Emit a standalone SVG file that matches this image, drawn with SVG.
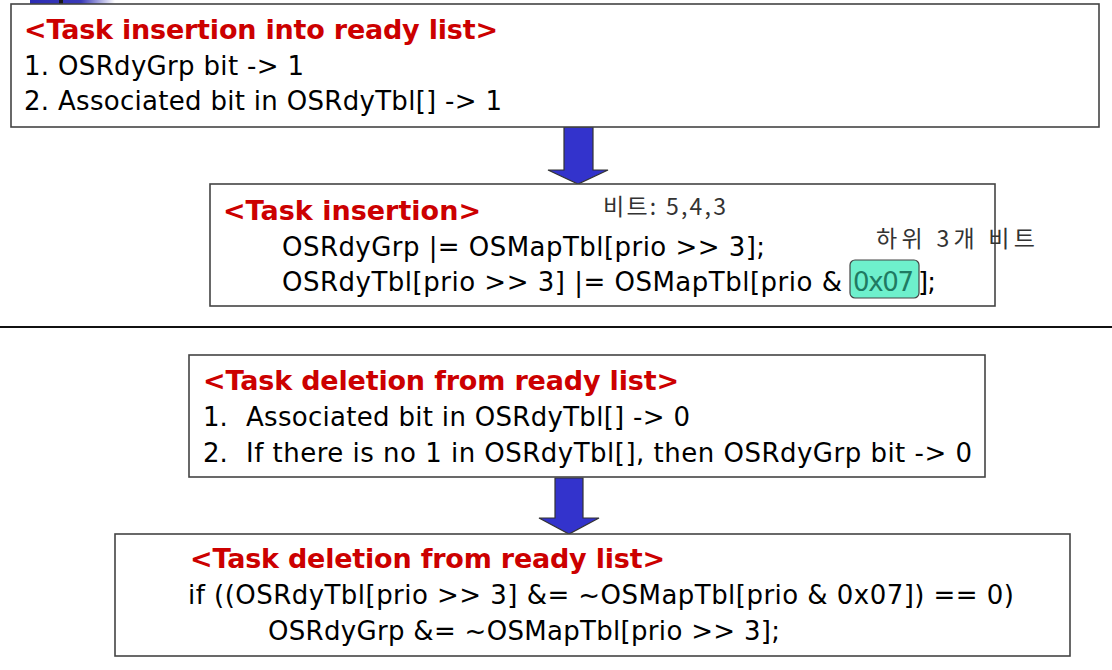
<svg xmlns="http://www.w3.org/2000/svg" width="1112" height="670" viewBox="0 0 1112 670">
<defs>
<linearGradient id="barGrad" x1="0" y1="0" x2="1" y2="0">
<stop offset="0" stop-color="#2c2cb4"/>
<stop offset="0.6" stop-color="#3a3ab8"/>
<stop offset="1" stop-color="#ffffff"/>
</linearGradient>
</defs>
<style>
.box{fill:#ffffff;stroke:#444444;stroke-width:1.6}
.title{font-family:"DejaVu Sans","Liberation Sans",sans-serif;font-weight:bold;font-size:27px;fill:#cc0000}
.body{font-family:"DejaVu Sans","Liberation Sans",sans-serif;font-size:26px;fill:#000000}
.note{font-family:"Noto Sans CJK KR","DejaVu Sans",sans-serif;font-size:23px;fill:#333333}
.arrow{fill:#3333cc;stroke:#333333;stroke-width:1.2;stroke-linejoin:miter}
.hl{fill:#6ef0cc;stroke:#444444;stroke-width:1.2}
</style>
<rect width="1112" height="670" fill="#ffffff"/>

<g id="header-decoration">
<rect x="30" y="0" width="85" height="6" fill="url(#barGrad)"/>
<rect x="59" y="0" width="4" height="12" fill="#1a1a1a"/>
</g>

<line x1="0" y1="327" x2="1112" y2="327" stroke="#111111" stroke-width="2"/>

<g id="connectors">
<polygon class="arrow" points="564,127 593,127 593,170 608,170 578,184 548,170 564,170"/>
<polygon class="arrow" points="555,478 583,478 583,518 599,518 569,534 539,518 555,518"/>
</g>

<g id="insertion-ready-list">
<rect class="box" x="11" y="4" width="1088" height="123"/>
<text class="title" x="24" y="39" textLength="474">&lt;Task insertion into ready list&gt;</text>
<text class="body" x="24" y="75" textLength="280">1. OSRdyGrp bit -&gt; 1</text>
<text class="body" x="24" y="110" textLength="478">2. Associated bit in OSRdyTbl[] -&gt; 1</text>
</g>

<g id="insertion-code">
<rect class="box" x="210" y="184" width="785" height="122"/>
<text class="title" x="223" y="220" textLength="258">&lt;Task insertion&gt;</text>
<text class="body" x="282" y="256" textLength="483">OSRdyGrp |= OSMapTbl[prio &gt;&gt; 3];</text>
<text class="body" x="282" y="291" textLength="560">OSRdyTbl[prio &gt;&gt; 3] |= OSMapTbl[prio &amp;</text>
<rect class="hl" x="850" y="260" width="69" height="38" rx="5"/>
<text class="body" x="853" y="291" textLength="61" style="fill:#1f7a62">0x07</text>
<text class="body" x="918" y="291" textLength="18">];</text>
</g>

<g id="note-bits-543">
<text class="note" x="603" y="215" textLength="123">비트: 5,4,3</text>
</g>

<g id="note-low-3-bits">
<text class="note" x="876" y="247" textLength="159">하위 3개 비트</text>
</g>

<g id="deletion-ready-list">
<rect class="box" x="189" y="355" width="796" height="122"/>
<text class="title" x="203" y="390" textLength="476">&lt;Task deletion from ready list&gt;</text>
<text class="body" y="426"><tspan x="203">1.</tspan><tspan x="246" textLength="444">Associated bit in OSRdyTbl[] -&gt; 0</tspan></text>
<text class="body" y="462"><tspan x="203">2.</tspan><tspan x="246" textLength="726">If there is no 1 in OSRdyTbl[], then OSRdyGrp bit -&gt; 0</tspan></text>
</g>

<g id="deletion-code">
<rect class="box" x="115" y="534" width="955" height="122"/>
<text class="title" x="190" y="568" textLength="475">&lt;Task deletion from ready list&gt;</text>
<text class="body" x="188" y="604" textLength="826">if ((OSRdyTbl[prio &gt;&gt; 3] &amp;= ~OSMapTbl[prio &amp; 0x07]) == 0)</text>
<text class="body" x="268" y="640" textLength="512">OSRdyGrp &amp;= ~OSMapTbl[prio &gt;&gt; 3];</text>
</g>
</svg>
